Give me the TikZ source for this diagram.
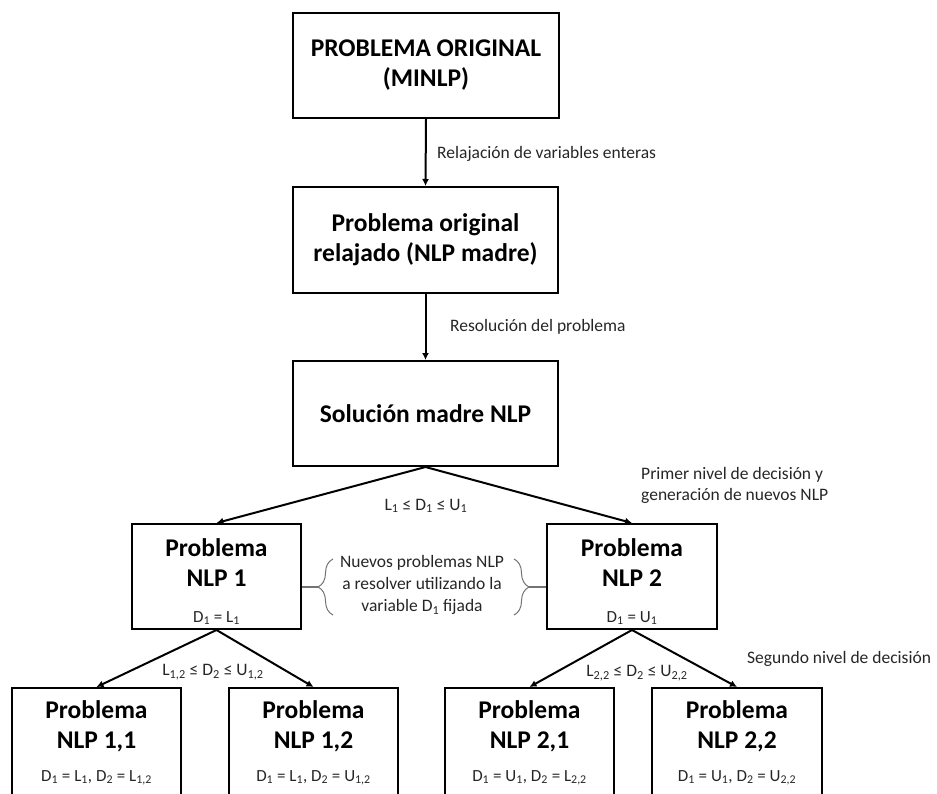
\documentclass[tikz,border=0pt]{standalone}
\usepackage{fontspec}
\setmainfont{Carlito}
\usetikzlibrary{arrows.meta,decorations.pathreplacing}
\newcommand{\subind}[1]{\textsubscript{#1}}
\newcommand{\detalle}{\fontsize{17}{20}\selectfont\mdseries\color{black!85}}

\begin{document}
\begin{tikzpicture}[x=1pt,y=-1pt,
  caja/.style={draw,line width=2pt,align=center,inner sep=0pt,
    font=\fontsize{25.5}{30}\selectfont\bfseries},
  cajaN/.style={caja,minimum width=169,minimum height=105},
  flecha/.style={line width=2pt,-{Latex[length=7pt,width=7pt]}},
  nota/.style={inner sep=0pt,text=black!85,font=\fontsize{17.5}{21}\selectfont},
  llave/.style={draw=black!55,line width=1pt,decorate,decoration={brace,amplitude=15pt}}]
\useasboundingbox (0,0) rectangle (937,794);
\clip (0,0) rectangle (937,794);
%cajas
\node[caja,minimum width=266,minimum height=105] (orig) at (426,65.5) {PROBLEMA ORIGINAL\\(MINLP)};
\node[caja,minimum width=265,minimum height=106] (relax) at (425.5,240) {Problema original\\relajado (NLP madre)};
\node[caja,minimum width=265,minimum height=105] (sol) at (425.5,413.5) {Soluci\'on madre NLP};
\node[cajaN] (nlpA) at (216.5,576.5) {\rule{0pt}{28pt}Problema\\NLP 1\\[6pt]{\detalle D\subind{1} = L\subind{1}}};
\node[cajaN,minimum width=170] (nlpB) at (632,576.5) {\rule{0pt}{28pt}Problema\\NLP 2\\[6pt]{\detalle D\subind{1} = U\subind{1}}};
%
\node[cajaN,minimum height=110] (nlpAA) at (96.5,743) {Problema\\NLP 1,1\\[3pt]{\detalle D\subind{1} = L\subind{1}, D\subind{2} = L\subind{1,2}}};
\node[cajaN,minimum height=110] (nlpAB) at (313.5,743) {Problema\\NLP 1,2\\[3pt]{\detalle D\subind{1} = L\subind{1}, D\subind{2} = U\subind{1,2}}};
\node[cajaN,minimum height=110] (nlpBA) at (529.5,743) {Problema\\NLP 2,1\\[3pt]{\detalle D\subind{1} = U\subind{1}, D\subind{2} = L\subind{2,2}}};
\node[cajaN,minimum height=110,minimum width=170] (nlpBB) at (737,743) {Problema\\NLP 2,2\\[3pt]{\detalle D\subind{1} = U\subind{1}, D\subind{2} = U\subind{2,2}}};
%flechas
\draw[flecha] (orig.south)--(relax.north);
\draw[flecha] (relax.south)--(sol.north);
\draw[flecha] (sol.south)--(nlpA.north);
\draw[flecha] (sol.south)--(nlpB.north);
\draw[flecha] (nlpA.south)--(nlpAA.north);
\draw[flecha] (nlpA.south)--(nlpAB.north);
\draw[flecha] (nlpB.south)--(nlpBA.north);
\draw[flecha] (nlpB.south)--(nlpBB.north);
%textos
\node[nota,anchor=west] (txtRelax) at (437,154) {Relajaci\'on de variables enteras};
\node[nota,anchor=west] (txtResol) at (450,327) {Resoluci\'on del problema};
\node[nota] (rango1) at (426,506) {L\subind{1} ≤ D\subind{1} ≤ U\subind{1}};
\node[nota,anchor=west,align=left] (nivel1) at (641,485) {Primer nivel de decisi\'on y\\generaci\'on de nuevos NLP};
\node[nota] (rango12) at (213,672) {L\subind{1,2} ≤ D\subind{2} ≤ U\subind{1,2}};
\node[nota] (rango22) at (637,673) {L\subind{2,2} ≤ D\subind{2} ≤ U\subind{2,2}};
\node[nota,anchor=west] (nivel2) at (747,659) {Segundo nivel de decisi\'on};
\node[nota,align=center,font=\fontsize{17.5}{22}\selectfont] (nuevos) at (422,585) {Nuevos problemas NLP\\a resolver utilizando la\\variable D\subind{1} fijada};
%llaves
\draw[llave] (333,615)--(333,559);
\draw[llave] (514,559)--(514,615);
\coordinate (puntaA) at (318,587);
\coordinate (puntaB) at (529,587);
\draw[black!55,line width=1.5pt] (puntaA)--(puntaA -| nlpA.east);
\draw[black!55,line width=1.5pt] (puntaB)--(puntaB -| nlpB.west);
\end{tikzpicture}
\end{document}
